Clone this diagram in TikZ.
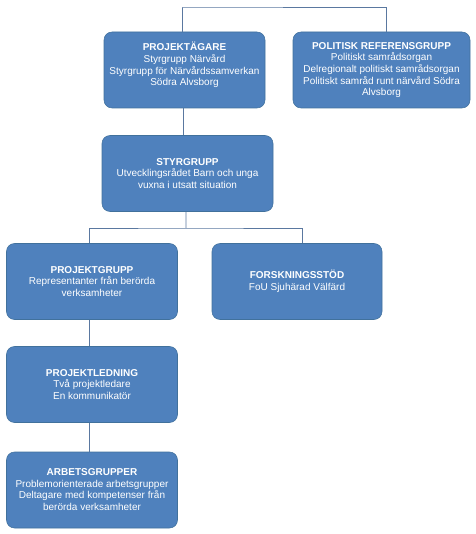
\documentclass[tikz,border=0pt]{standalone}
\usepackage{fontspec}
\setmainfont{Liberation Sans}
\usetikzlibrary{positioning}
\definecolor{boxblue}{HTML}{4F81BD}
\definecolor{boxedge}{HTML}{41719C}
\definecolor{linkblue}{HTML}{5A78A0}
\begin{document}
\begin{tikzpicture}[x=0.75pt, y=-0.75pt,
    orgbox/.style={draw=boxedge, fill=boxblue, rounded corners=6pt, text=white,
        align=center, inner sep=0pt, minimum height=57pt,
        font=\fontsize{7.5}{8.75}\selectfont},
    link/.style={draw=linkblue, line width=0.6pt}]
    \useasboundingbox (0,0) rectangle (475,534);

    % --- TOP ROW ---
    \node[orgbox, minimum width=120.75pt] (owner) at (184.5, 70)
        {\textbf{PROJEKTÄGARE}\\Styrgrupp Närvård\\Styrgrupp för Närvårdssamverkan\\Södra Alvsborg\\\mbox{}};
    \node[orgbox, minimum width=132.75pt] (reference) at (381.5, 70)
        {\textbf{POLITISK REFERENSGRUPP}\\Politiskt samrådsorgan\\Delregionalt politiskt samrådsorgan\\Politiskt samråd runt närvård Södra\\Alvsborg};

    % --- STEERING ---
    \node[orgbox, minimum width=128.25pt] (steering) at (187.5, 173.5)
        {\textbf{STYRGRUPP}\\Utvecklingsrådet Barn och unga\\vuxna i utsatt situation};

    % --- PROJECT ROW ---
    \node[orgbox, minimum width=128.25pt] (projgroup) at (92, 281.5)
        {\textbf{PROJEKTGRUPP}\\Representanter från berörda\\verksamheter};
    \node[orgbox, minimum width=127.5pt] (research) at (297, 281.5)
        {\textbf{FORSKNINGSSTÖD}\\FoU Sjuhärad Välfärd};

    % --- LEFT COLUMN ---
    \node[orgbox, minimum width=128.25pt] (management) at (92, 384.5)
        {\textbf{PROJEKTLEDNING}\\Två projektledare\\En kommunikatör};
    \node[orgbox, minimum width=128.25pt] (workgroups) at (92, 490)
        {\mbox{}\\[-4pt]\textbf{ARBETSGRUPPER}\\Problemorienterade arbetsgrupper\\Deltagare med kompetenser från\\berörda verksamheter};

    % Connectors
    \coordinate (top) at (182, 7);
    \coordinate (split) at (186, 228);
    \draw[link] ([xshift=-1.9pt]owner.north) |- (top) -| ([xshift=4pt]reference.north);
    \draw[link] ([xshift=-1pt]owner.south) -- ([xshift=-1pt]owner.south |- steering.north);
    \draw[link] ([xshift=-1.1pt]steering.south) -- (split);
    \draw[link] ([xshift=-2pt]projgroup.north) |- (split) -| ([xshift=3.8pt]research.north);
    \draw[link] ([xshift=-2pt]projgroup.south) -- ([xshift=-2pt]management.north);
    \draw[link] ([xshift=-2pt]management.south) -- ([xshift=-2pt]workgroups.north);
\end{tikzpicture}
\end{document}
